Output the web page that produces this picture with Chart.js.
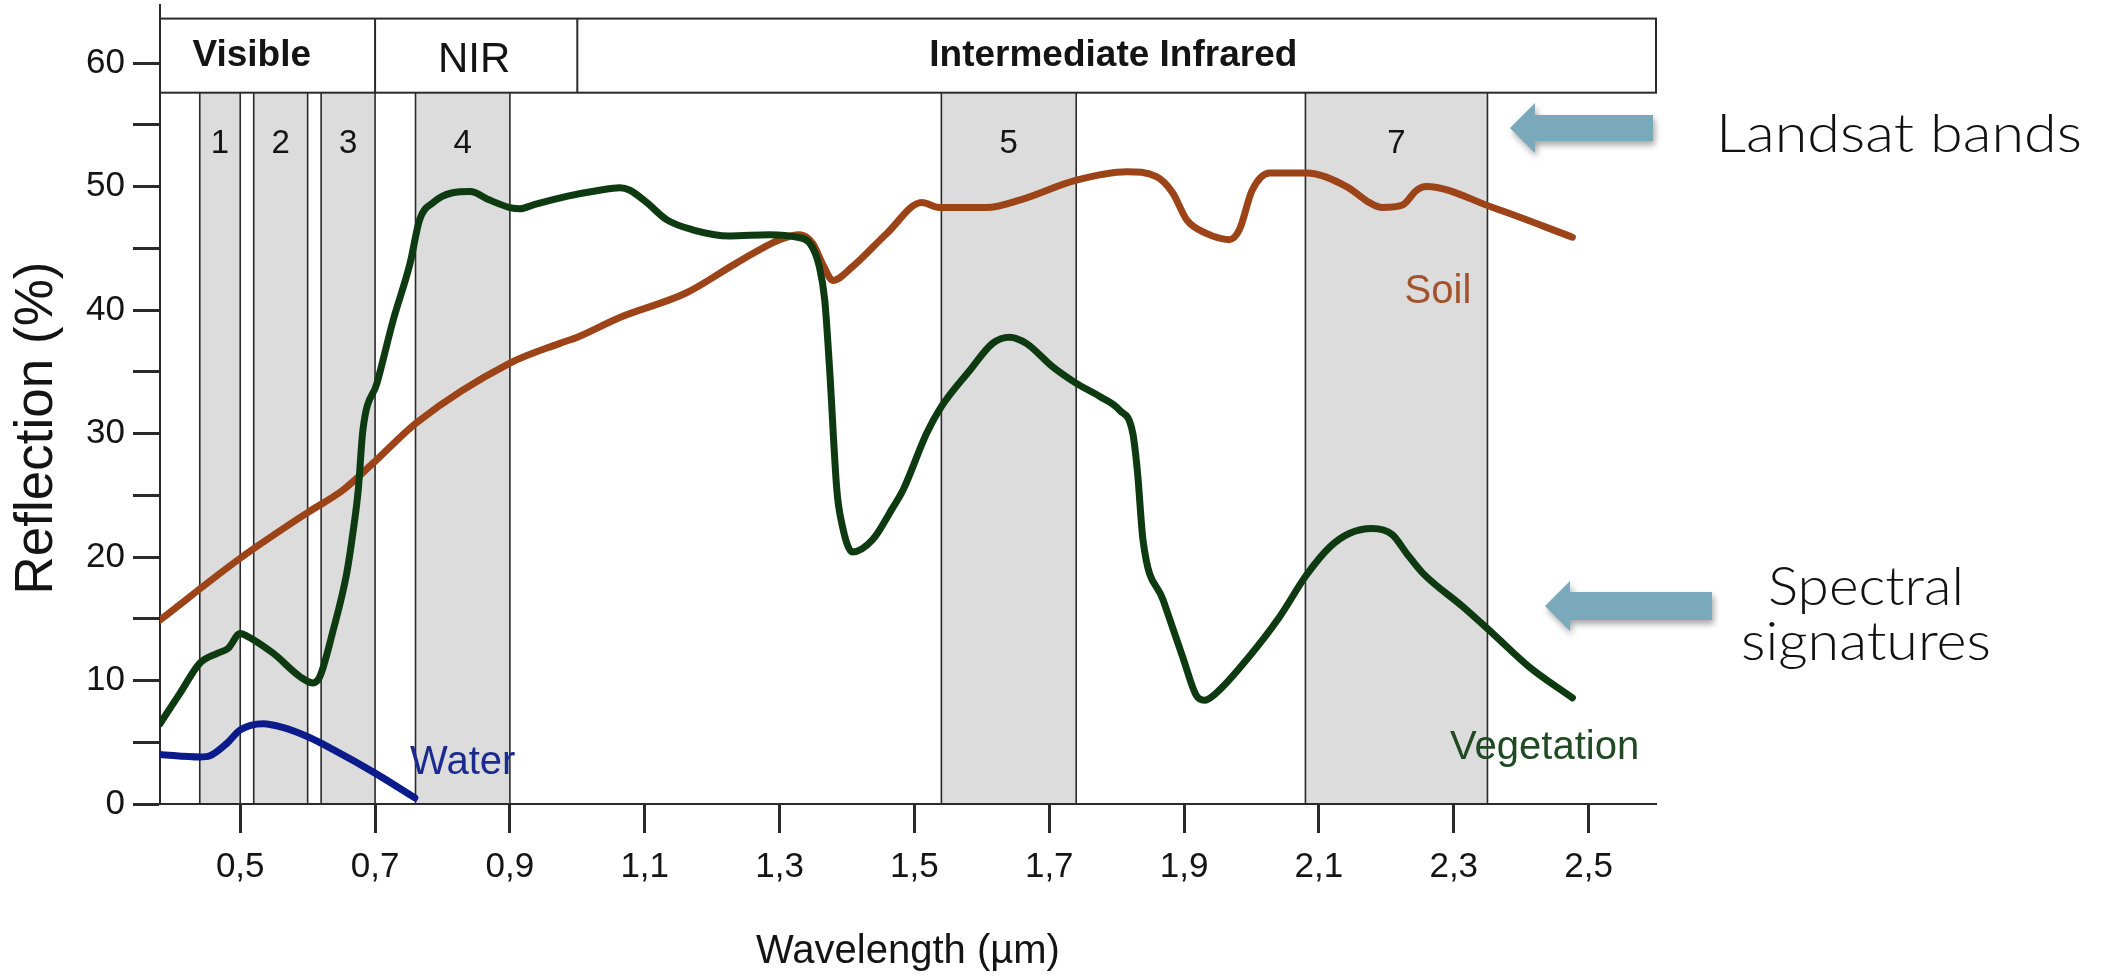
<!DOCTYPE html>
<html lang="en">
<head>
<meta charset="utf-8">
<title>Spectral signatures</title>
<script src="https://cdn.jsdelivr.net/npm/chart.js@4.4.1/dist/chart.umd.min.js"></script>
<style>
  html, body { margin: 0; padding: 0; background: #fff; }
  canvas { display: block; }
</style>
</head>
<body>
<canvas id="spectralChart" width="2123" height="980"></canvas>
<script>
// Spectral signatures of soil, vegetation and water with Landsat bands

/* ── Data ─────────────────────────────────────────────── */
const WL_VEG = [0.381, 0.411, 0.44, 0.466, 0.482, 0.50, 0.51, 0.549, 0.589, 0.608,
    0.618, 0.638, 0.658, 0.667, 0.675, 0.682, 0.703, 0.727, 0.752, 0.766,
    0.786, 0.815, 0.841, 0.870, 0.90, 0.915, 0.934, 0.984, 1.033, 1.063,
    1.078, 1.103, 1.133, 1.171, 1.226, 1.285, 1.325, 1.345, 1.359, 1.367,
    1.374, 1.385, 1.392, 1.408, 1.438, 1.468, 1.483, 1.518, 1.539, 1.582,
    1.616, 1.641, 1.666, 1.705, 1.739, 1.775, 1.804, 1.824, 1.831, 1.839,
    1.869, 1.898, 1.918, 1.930, 1.948, 1.993, 2.041, 2.081, 2.116, 2.145,
    2.179, 2.209, 2.230, 2.254, 2.313, 2.358, 2.412, 2.476];
const VEG = [6.5, 9.0, 11.4, 12.2, 12.6, 13.8, 13.6, 12.2, 10.3, 9.8,
    10.3, 14.1, 18.7, 21.9, 25.4, 30.3, 34.1, 39.2, 43.8, 47.3,
    48.7, 49.5, 49.6, 48.9, 48.3, 48.2, 48.5, 49.2, 49.7, 49.9,
    49.7, 48.7, 47.3, 46.5, 46.0, 46.1, 45.9, 45.4, 43.5, 40.8,
    35.4, 25.4, 22.8, 20.4, 21.4, 24.0, 25.4, 30.0, 32.1, 35.1,
    37.3, 37.8, 37.3, 35.4, 34.1, 33.0, 31.9, 30.0, 26.8, 21.4,
    16.5, 11.9, 8.8, 8.4, 9.0, 11.7, 15.1, 18.5, 20.8, 21.9,
    22.3, 21.8, 20.3, 18.7, 16.0, 13.8, 11.1, 8.6];

const WL_SOIL = [0.381, 0.50, 0.60, 0.652, 0.697, 0.762, 0.90, 0.974, 1.0, 1.063,
    1.162, 1.236, 1.30, 1.33, 1.349, 1.365, 1.379, 1.408, 1.459, 1.511,
    1.537, 1.607, 1.656, 1.739, 1.815, 1.859, 1.883, 1.904, 1.933, 1.967,
    1.982, 2.001, 2.027, 2.081, 2.141, 2.175, 2.194, 2.224, 2.245, 2.259,
    2.358, 2.476];
const SOIL = [14.9, 19.9, 23.6, 25.4, 27.6, 30.9, 35.7, 37.3, 37.8, 39.4,
    41.4, 43.8, 45.7, 46.1, 45.4, 43.6, 42.4, 43.5, 46.2, 48.7,
    48.3, 48.3, 48.9, 50.5, 51.2, 50.8, 49.5, 47.3, 46.2, 45.7,
    46.5, 49.7, 51.1, 51.1, 50.0, 48.7, 48.3, 48.5, 49.7, 50.0,
    48.3, 45.9];

const WL_WATER = [0.381, 0.44, 0.455, 0.48, 0.50, 0.534, 0.563, 0.602, 0.638, 0.70, 0.759];
const WATER = [4.0, 3.8, 3.9, 4.9, 6.0, 6.5, 6.2, 5.4, 4.4, 2.5, 0.5];

const BAND_NAMES = ['1', '2', '3', '4', '5', '7'];
const BAND_LO = [0.44, 0.52, 0.62, 0.76, 1.54, 2.08];
const BAND_HI = [0.50, 0.60, 0.70, 0.90, 1.74, 2.35];

const REGION_NAMES = ['Visible', 'NIR', 'Intermediate Infrared'];
const REGION_DIVIDERS = [0.70, 1.0];

const X_TICKS = [0.5, 0.7, 0.9, 1.1, 1.3, 1.5, 1.7, 1.9, 2.1, 2.3, 2.5];
const Y_TICKS = [0, 5, 10, 15, 20, 25, 30, 35, 40, 45, 50, 55, 60];
const Y_LABELED = [0, 10, 20, 30, 40, 50, 60];

/* ── Axis ranges & styles ─────────────────────────────── */
const X_MIN = 0.381, X_MAX = 2.6;
const Y_MAX = 64.7;
const HEADER_LO = 57.6, HEADER_HI = 63.6;

const FONT = "'Liberation Sans', Arial, sans-serif";
const SIDE_FONT = "Lato, 'Open Sans', sans-serif";
const TEXT = '#141414';
const AXIS = '#2a2a2a';
const BAND_FILL = '#dcdcdc';
const VEG_COLOR = '#0e3a12';
const SOIL_COLOR = '#9c4418';
const WATER_COLOR = '#0c1b8c';
const ARROW = '#7aa9bb';

Chart.defaults.font.family = FONT;
Chart.defaults.color = TEXT;

const toPoints = (xs, ys) => xs.map((x, i) => ({ x, y: ys[i] }));

function fitText(ctx, text, x, y, width, align) {
    const w = ctx.measureText(text).width;
    ctx.save();
    ctx.translate(x, y);
    ctx.scale(width / w, 1);
    ctx.textAlign = align;
    ctx.fillText(text, 0, 0);
    ctx.restore();
}

function drawArrow(ctx, tipX, tipY, tailX, headLen, headHalf, shaftHalf) {
    ctx.beginPath();
    ctx.moveTo(tipX, tipY);
    ctx.lineTo(tipX + headLen, tipY - headHalf);
    ctx.lineTo(tipX + headLen, tipY - shaftHalf);
    ctx.lineTo(tailX, tipY - shaftHalf);
    ctx.lineTo(tailX, tipY + shaftHalf);
    ctx.lineTo(tipX + headLen, tipY + shaftHalf);
    ctx.lineTo(tipX + headLen, tipY + headHalf);
    ctx.closePath();
    ctx.fill();
}

/* ── Bands, header box and labels ─────────────────────── */
const decorations = {
    id: 'decorations',
    beforeDraw(chart) {
        const { ctx, chartArea: a, scales: { x, y } } = chart;
        ctx.save();
        ctx.fillStyle = '#fff';
        ctx.fillRect(0, 0, chart.width, chart.height);

        const yTop = y.getPixelForValue(HEADER_LO);
        const yBot = y.getPixelForValue(0);
        ctx.strokeStyle = AXIS;
        ctx.lineWidth = 1.6;
        BAND_LO.forEach((lo, i) => {
            const x0 = x.getPixelForValue(lo), x1 = x.getPixelForValue(BAND_HI[i]);
            ctx.fillStyle = BAND_FILL;
            ctx.fillRect(x0, yTop, x1 - x0, yBot - yTop);
            ctx.beginPath();
            ctx.moveTo(x0, yTop); ctx.lineTo(x0, yBot);
            ctx.moveTo(x1, yTop); ctx.lineTo(x1, yBot);
            ctx.stroke();
        });

        // header box with region dividers
        const hTop = y.getPixelForValue(HEADER_HI);
        ctx.lineWidth = 2;
        ctx.strokeRect(a.left, hTop, a.right - a.left, yTop - hTop);
        ctx.beginPath();
        REGION_DIVIDERS.forEach(v => {
            const px = x.getPixelForValue(v);
            ctx.moveTo(px, hTop); ctx.lineTo(px, yTop);
        });
        ctx.stroke();
        ctx.restore();
    },
    afterDraw(chart) {
        const { ctx, scales: { x, y } } = chart;
        ctx.save();
        ctx.fillStyle = TEXT;
        ctx.textBaseline = 'alphabetic';
        ctx.textAlign = 'center';

        // region names
        const regionX = [0.517, 0.847, 1.795];
        const regionBase = [59.8, 59.3, 59.8];
        const regionFont = ['bold 37px ' + FONT, '42px ' + FONT, 'bold 37px ' + FONT];
        REGION_NAMES.forEach((name, i) => {
            ctx.font = regionFont[i];
            ctx.fillText(name, x.getPixelForValue(regionX[i]), y.getPixelForValue(regionBase[i]));
        });

        // band numbers
        ctx.font = '33px ' + FONT;
        BAND_NAMES.forEach((name, i) => {
            const cx = (x.getPixelForValue(BAND_LO[i]) + x.getPixelForValue(BAND_HI[i])) / 2;
            ctx.fillText(name, cx, y.getPixelForValue(52.7));
        });

        // curve labels
        ctx.font = '40px ' + FONT;
        ctx.textAlign = 'left';
        ctx.fillStyle = '#1b2a8f';
        ctx.fillText('Water', x.getPixelForValue(0.752), y.getPixelForValue(2.43));
        ctx.textAlign = 'right';
        ctx.fillStyle = '#a3532b';
        ctx.fillText('Soil', x.getPixelForValue(2.326), y.getPixelForValue(40.6));
        ctx.fillStyle = '#1f4a22';
        ctx.fillText('Vegetation', x.getPixelForValue(2.575), y.getPixelForValue(3.64));

        // y axis title
        ctx.save();
        ctx.translate(37, 428);
        ctx.rotate(-Math.PI / 2);
        ctx.fillStyle = TEXT;
        ctx.font = '53px ' + FONT;
        ctx.textAlign = 'center';
        ctx.textBaseline = 'middle';
        ctx.fillText('Reflection (%)', 0, 0);
        ctx.restore();

        // side arrows with soft shadow
        ctx.save();
        ctx.fillStyle = ARROW;
        ctx.shadowColor = 'rgba(0,0,0,0.35)';
        ctx.shadowBlur = 6;
        ctx.shadowOffsetX = 2;
        ctx.shadowOffsetY = 4;
        drawArrow(ctx, 1510, 128, 1653, 25, 25, 13);
        drawArrow(ctx, 1545, 606, 1712, 25, 25, 14);
        ctx.restore();

        // side notes
        ctx.fillStyle = '#111';
        ctx.font = '300 54px ' + SIDE_FONT;
        fitText(ctx, 'Landsat bands', 1716, 152, 366, 'left');
        fitText(ctx, 'Spectral', 1866, 605, 196, 'center');
        fitText(ctx, 'signatures', 1866, 660, 250, 'center');
        ctx.restore();
    }
};

/* ── Chart ────────────────────────────────────────────── */
const lineStyle = {
    borderWidth: 7,
    pointRadius: 0,
    fill: false,
    cubicInterpolationMode: 'monotone',
    borderCapStyle: 'round',
    borderJoinStyle: 'round'
};

new Chart(document.getElementById('spectralChart'), {
    type: 'line',
    data: {
        datasets: [
            Object.assign({ label: 'Vegetation', data: toPoints(WL_VEG, VEG), borderColor: VEG_COLOR }, lineStyle),
            Object.assign({ label: 'Soil', data: toPoints(WL_SOIL, SOIL), borderColor: SOIL_COLOR }, lineStyle),
            Object.assign({ label: 'Water', data: toPoints(WL_WATER, WATER), borderColor: WATER_COLOR }, lineStyle)
        ]
    },
    options: {
        responsive: false,
        animation: false,
        layout: { padding: { top: 5, right: 467, bottom: 0, left: 0 } },
        plugins: { legend: { display: false }, tooltip: { enabled: false } },
        scales: {
            x: {
                type: 'linear',
                min: X_MIN,
                max: X_MAX,
                afterBuildTicks: s => { s.ticks = X_TICKS.map(v => ({ value: v })); },
                afterFit: s => { s.height = 176; s.paddingLeft = 0; s.paddingRight = 0; },
                border: { display: true, color: AXIS, width: 2 },
                grid: { drawOnChartArea: false, drawTicks: true, tickLength: 29, tickWidth: 3, tickColor: AXIS },
                ticks: {
                    autoSkip: false,
                    maxRotation: 0,
                    padding: 13,
                    color: TEXT,
                    font: { size: 35 },
                    callback: v => v.toFixed(1).replace('.', ',')
                },
                title: {
                    display: true,
                    text: 'Wavelength (µm)',
                    color: TEXT,
                    font: { size: 40 },
                    padding: { top: 0, bottom: 4 }
                }
            },
            y: {
                min: 0,
                max: Y_MAX,
                afterBuildTicks: s => { s.ticks = Y_TICKS.map(v => ({ value: v })); },
                afterFit: s => { s.width = 160; s.paddingTop = 0; s.paddingBottom = 0; },
                border: { display: true, color: AXIS, width: 2 },
                grid: { drawOnChartArea: false, drawTicks: true, tickLength: 27, tickWidth: 3, tickColor: AXIS },
                ticks: {
                    padding: 8,
                    color: TEXT,
                    font: { size: 35 },
                    callback: v => (Y_LABELED.includes(v) ? String(v) : '')
                }
            }
        }
    },
    plugins: [decorations]
});
</script>
</body>
</html>
